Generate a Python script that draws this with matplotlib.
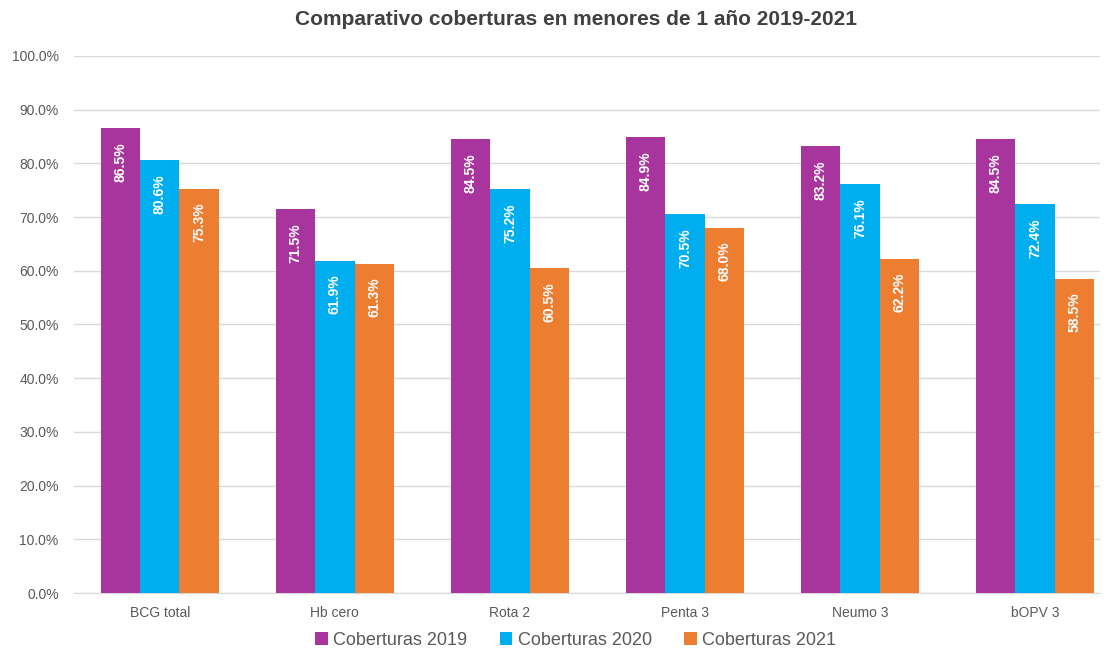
import matplotlib
matplotlib.use("Agg")
import matplotlib.pyplot as plt
import numpy as np

plt.rcParams['font.family'] = ['Liberation Sans', 'DejaVu Sans']

categories = ["BCG total", "Hb cero", "Rota 2", "Penta 3", "Neumo 3", "bOPV 3"]
series_names = ["Coberturas 2019", "Coberturas 2020", "Coberturas 2021"]
cob_2019 = [86.5, 71.5, 84.5, 84.9, 83.2, 84.5]
cob_2020 = [80.6, 61.9, 75.2, 70.5, 76.1, 72.4]
cob_2021 = [75.3, 61.3, 60.5, 68.0, 62.2, 58.5]
y_ticks = [0, 10, 20, 30, 40, 50, 60, 70, 80, 90, 100]

colors = ["#A8359D", "#00AEEF", "#ED7D31"]
grey = "#595959"

fig = plt.figure(figsize=(11.07, 6.57), dpi=100)
ax = fig.add_axes([0.0668, 0.0974, 0.9268, 0.8174])

x = np.arange(len(categories))
w = 0.225
for i, (vals, col, name) in enumerate(zip([cob_2019, cob_2020, cob_2021], colors, series_names)):
    pos = x + (i - 1) * w
    ax.bar(pos, vals, width=w, color=col, label=name, zorder=3)
    for p, v in zip(pos, vals):
        ax.annotate(f"{v:.1f}%", xy=(p, v), xytext=(0, -10), textcoords="offset points",
                    rotation=90, ha="center", va="top", color="white",
                    fontsize=10, fontweight="bold", zorder=4)

ax.set_ylim(0, 100)
ax.set_xlim(-0.49, 5.37)
ax.set_yticks(y_ticks)
ax.set_yticklabels([f"{t:.1f}%" for t in y_ticks])
ax.set_xticks(x)
ax.set_xticklabels(categories)
ax.tick_params(axis="both", length=0, colors=grey, labelsize=10)
ax.tick_params(axis="x", pad=9)
ax.tick_params(axis="y", pad=11)
ax.grid(axis="y", color="#D9D9D9", linewidth=1, zorder=0)
for s in ["top", "right", "left"]:
    ax.spines[s].set_visible(False)
ax.spines["bottom"].set_color("#D9D9D9")

fig.suptitle("Comparativo coberturas en menores de 1 año 2019-2021", x=0.52, y=0.985,
             fontsize=15, fontweight="bold", color="#404040")

leg = fig.legend(loc="lower center", bbox_to_anchor=(0.52, -0.012), ncol=3, frameon=False,
                 fontsize=13, handlelength=0.7, handleheight=0.7, handletextpad=0.3,
                 columnspacing=1.8)
for t in leg.get_texts():
    t.set_color(grey)

fig.savefig("out.png", dpi=100, facecolor="white")
